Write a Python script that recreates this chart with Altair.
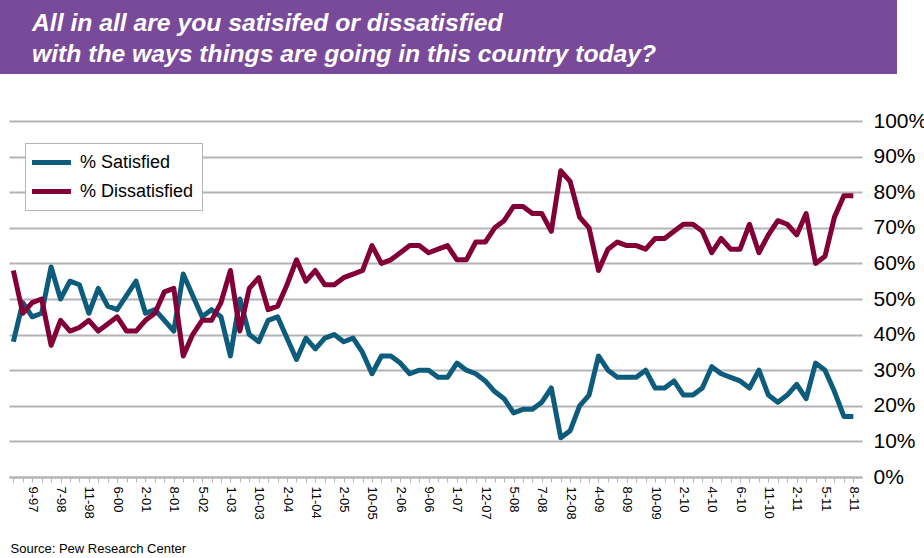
import json
import altair as alt
import pandas as pd

FONT = "Liberation Sans"

title_lines = [
    "All in all are you satisifed or dissatisfied",
    "with the ways things are going in this country today?",
]
source_text = "Source: Pew Research Center"

tick_labels = ["9-97", "7-98", "11-98", "6-00", "2-01", "8-01", "5-02", "1-03",
               "10-03", "2-04", "11-04", "2-05", "10-05", "2-06", "9-06", "1-07",
               "12-07", "5-08", "7-08", "12-08", "4-09", "8-09", "10-09", "2-10",
               "4-10", "6-10", "11-10", "2-11", "5-11", "8-11"]

satisfied = [38, 49, 45, 46, 59, 50, 55, 54, 46, 53,
             48, 47, 51, 55, 46, 47, 44, 41, 57, 51,
             45, 47, 45, 34, 50, 40, 38, 44, 45, 39,
             33, 39, 36, 39, 40, 38, 39, 35, 29, 34,
             34, 32, 29, 30, 30, 28, 28, 32, 30, 29,
             27, 24, 22, 18, 19, 19, 21, 25, 11, 13,
             20, 23, 34, 30, 28, 28, 28, 30, 25, 25,
             27, 23, 23, 25, 31, 29, 28, 27, 25, 30,
             23, 21, 23, 26, 22, 32, 30, 24, 17, 17]

dissatisfied = [58, 46, 49, 50, 37, 44, 41, 42, 44, 41,
                43, 45, 41, 41, 44, 46, 52, 53, 34, 40,
                44, 44, 49, 58, 41, 53, 56, 47, 48, 54,
                61, 55, 58, 54, 54, 56, 57, 58, 65, 60,
                61, 63, 65, 65, 63, 64, 65, 61, 61, 66,
                66, 70, 72, 76, 76, 74, 74, 69, 86, 83,
                73, 70, 58, 64, 66, 65, 65, 64, 67, 67,
                69, 71, 71, 69, 63, 67, 64, 64, 71, 63,
                68, 72, 71, 68, 74, 60, 62, 73, 79, 79]

series_names = ["% Satisfied", "% Dissatisfied"]
series_colors = ["#0E5C7B", "#820037"]
band_color = "#7A4A9A"
grid_color = "#B4B4B8"

n = len(satisfied)
# every third poll carries a label, the last poll included
categories = [""] * n
for k, lab in enumerate(reversed(tick_labels)):
    categories[n - 1 - 3 * k] = lab

rows = []
for name, vals in zip(series_names, [satisfied, dissatisfied]):
    for i, v in enumerate(vals):
        rows.append({"idx": i, "series": name, "value": v})
df = pd.DataFrame(rows)

label_expr = "[" + ",".join(json.dumps(c) for c in categories) + "][datum.value]"

x_enc = alt.X(
    "idx:Q",
    scale=alt.Scale(domain=[-0.46, n - 1 + 0.92], nice=False, zero=False),
    axis=alt.Axis(
        values=list(range(n)),
        labelExpr=label_expr,
        labelAngle=90,
        labelAlign="left",
        labelBaseline="middle",
        labelFont=FONT,
        labelFontSize=13,
        labelColor="black",
        labelOverlap=False,
        labelFlush=False,
        labelPadding=4,
        tickSize=5,
        tickColor=grid_color,
        tickWidth=1,
        domainColor=grid_color,
        domainWidth=2,
        grid=False,
        title=source_text,
        titleFont=FONT,
        titleFontSize=13,
        titleFontWeight="normal",
        titleColor="black",
        titleAlign="left",
        titleBaseline="middle",
        titleAnchor="start",
        titleX=1,
        titleY=71,
    ),
)

y_enc = alt.Y(
    "value:Q",
    scale=alt.Scale(domain=[0, 100], nice=False),
    axis=alt.Axis(
        orient="right",
        values=list(range(0, 101, 10)),
        labelExpr="datum.value + '%'",
        labelFont=FONT,
        labelFontSize=21,
        labelColor="black",
        labelPadding=11,
        labelBaseline="middle",
        ticks=False,
        domain=False,
        grid=True,
        gridColor=grid_color,
        gridWidth=2,
        title=None,
    ),
)

lines = alt.Chart(df).mark_line(strokeWidth=5, strokeJoin="round").encode(
    x=x_enc,
    y=y_enc,
    color=alt.Color(
        "series:N",
        scale=alt.Scale(domain=series_names, range=series_colors),
        legend=alt.Legend(
            title=None,
            orient="none",
            legendX=16,
            legendY=22,
            direction="vertical",
            fillColor="white",
            strokeColor=grid_color,
            padding=8,
            rowPadding=7,
            symbolType="M-1.39,0L2.94,0",
            symbolSize=324,
            symbolStrokeWidth=5,
            labelFont=FONT,
            labelFontSize=18,
            labelColor="black",
            labelOffset=24,
            labelLimit=300,
        ),
    ),
)

band = alt.Chart(pd.DataFrame({"band": [0]})).mark_rect(color=band_color).encode(
    x=alt.value(-9), x2=alt.value(888), y=alt.value(-121), y2=alt.value(-47)
)

chart = alt.layer(band, lines).properties(
    width=853,
    height=356,
    padding={"left": 9, "top": 121, "right": 62, "bottom": 81},
    autosize=alt.AutoSizeParams(type="none"),
    title=alt.TitleParams(
        text=title_lines,
        anchor="start",
        frame="group",
        font=FONT,
        fontSize=24.7,
        fontStyle="italic",
        fontWeight="bold",
        color="white",
        lineHeight=31,
        baseline="top",
        offset=0,
        dx=23,
        dy=67,
        zindex=1,
    ),
).configure_view(stroke=None)

chart.save("out.html", embed_options={"renderer": "svg", "actions": False})
